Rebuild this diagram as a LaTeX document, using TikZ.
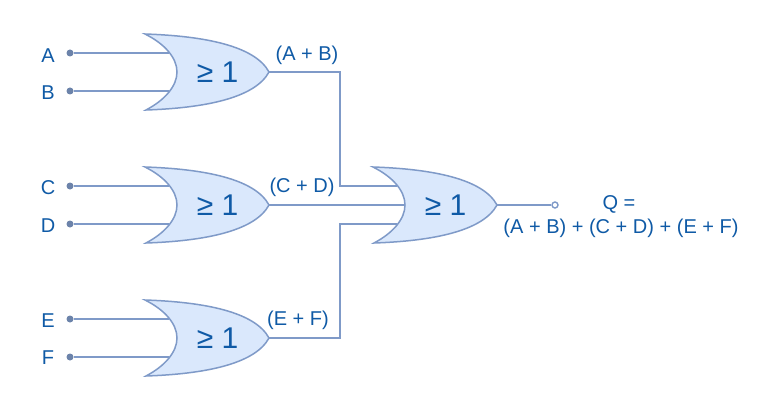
\documentclass[tikz,border=0pt]{standalone}
\usepackage{fontspec}
\setmainfont{Liberation Sans}
\definecolor{gatefill}{HTML}{DAE8FC}
\definecolor{gateline}{HTML}{7F9AC8}
\definecolor{txt}{HTML}{0F5AA6}
\tikzset{
  x=1pt,y=-1pt,
  wire/.style={draw=gateline,line width=1.6pt},
  gateshape/.style={draw=gateline,fill=gatefill,line width=1.5pt,line join=miter},
  lbl/.style={text=txt,font=\fontsize{20}{22}\selectfont,inner sep=0pt},
  gatelbl/.style={text=txt,font=\fontsize{30}{32}\selectfont,inner sep=0pt},
  dotin/.style={circle,fill=gateline!85!black,draw=none,minimum size=7pt,inner sep=0pt},
  dotout/.style={circle,fill=white,draw=gateline,line width=1.4pt,minimum size=6pt,inner sep=0pt},
  pics/orgate/.style={code={
    \path[gateshape] (0,0) .. controls (60,2) and (110,12) .. (124,38)
      .. controls (110,64) and (60,74) .. (1,76)
      .. controls (20,66) and (32,52) .. (32,38)
      .. controls (32,24) and (20,10) .. (0,0) -- cycle;
    \node[gatelbl] (-sym) at (72.5,38) {≥ 1};
    \coordinate (-a) at (24,19);
    \coordinate (-b) at (24,57);
    \coordinate (-m) at (32,38);
    \coordinate (-out) at (124,38);
  }}
}
\begin{document}
\begin{tikzpicture}
\useasboundingbox[fill=white] (0,0) rectangle (768,401);
% input terminals
\node[dotin] (ta) at (70,53) {};
\node[dotin] (tb) at (70,91) {};
\node[dotin] (tc) at (70,186) {};
\node[dotin] (td) at (70,224) {};
\node[dotin] (te) at (70,319) {};
\node[dotin] (tf) at (70,357) {};
\node[dotout] (tq) at (555,205) {};
% gates
\pic (g1) at (145,34) {orgate};
\pic (g2) at (145,167) {orgate};
\pic (g3) at (145,300) {orgate};
\pic (g4) at (373,167) {orgate};
% wires
\draw[wire] (ta) -- (g1-a);
\draw[wire] (tb) -- (g1-b);
\draw[wire] (tc) -- (g2-a);
\draw[wire] (td) -- (g2-b);
\draw[wire] (te) -- (g3-a);
\draw[wire] (tf) -- (g3-b);
\draw[wire] (g1-out) -| (340,186) -- (g4-a);
\draw[wire] (g2-out) -- (g4-m);
\draw[wire] (g3-out) -| (340,224) -- (g4-b);
\draw[wire] (g4-out) -- (tq);
% labels
\node[lbl] (la) at (48,56) {A};
\node[lbl] (lb) at (48,93) {B};
\node[lbl] (lc) at (48,188) {C};
\node[lbl] (ld) at (48,226) {D};
\node[lbl] (le) at (48,321) {E};
\node[lbl] (lf) at (48,358) {F};
\node[lbl] (lab) at (307,55.5) {(A + B)};
\node[lbl] (lcd) at (302,187.5) {(C + D)};
\node[lbl] (lef) at (298,320) {(E + F)};
\node[lbl] (lq) at (619,204) {Q =};
\node[lbl] (lq2) at (621,228.5) {(A + B) + (C + D) + (E + F)};
\end{tikzpicture}
\end{document}
